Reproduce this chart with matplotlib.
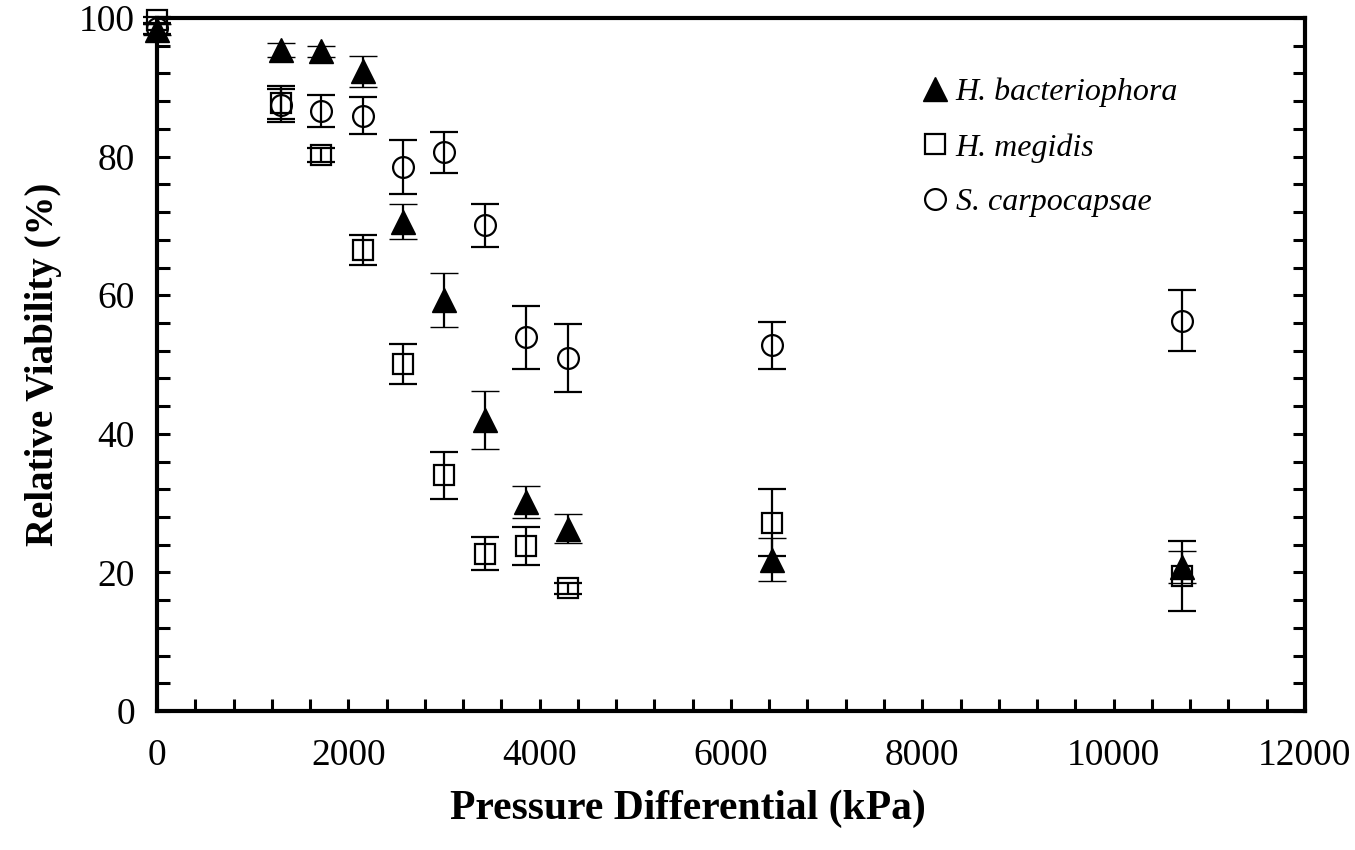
import numpy as np
import matplotlib
matplotlib.use("Agg")
import matplotlib.pyplot as plt
from matplotlib.ticker import MultipleLocator

plt.rcParams['font.family'] = ['Liberation Serif', 'DejaVu Serif']

# pressure differential (kPa)
pressure = [0, 1298, 1712, 2150, 2570, 3005, 3424, 3861, 4296, 6426, 10712]

# relative viability (%) and error
hb_mean = [98.3, 95.4, 95.2, 92.3, 70.6, 59.3, 42.0, 30.2, 26.3, 21.8, 20.8]
hb_err = [0.8, 1.0, 0.8, 2.2, 2.5, 3.9, 4.2, 2.3, 2.1, 3.1, 2.3]

hm_mean = [99.7, 87.8, 80.2, 66.5, 50.1, 34.0, 22.7, 23.8, 17.7, 27.2, 19.5]
hm_err = [0.5, 2.4, 1.0, 2.2, 2.9, 3.4, 2.4, 2.8, 0.8, 4.8, 5.0]

sc_mean = [98.5, 87.4, 86.6, 85.9, 78.5, 80.6, 70.1, 53.9, 51.0, 52.8, 56.3]
sc_err = [0.8, 2.4, 2.3, 2.7, 3.9, 3.0, 3.1, 4.5, 4.9, 3.4, 4.4]

fig = plt.figure(figsize=(13.55, 8.5), dpi=100)
ax = fig.add_axes([0.1159, 0.1635, 0.8471, 0.8153])

eb = dict(color='black', ecolor='black', elinewidth=1.6, capsize=10, capthick=1.6,
          linestyle='none', clip_on=False)
ax.errorbar(pressure, hm_mean, yerr=hm_err, marker='s', markersize=15,
            markerfacecolor='none', markeredgewidth=1.6, label='H. megidis', **eb)
ax.errorbar(pressure, sc_mean, yerr=sc_err, marker='o', markersize=15,
            markerfacecolor='none', markeredgewidth=1.6, label='S. carpocapsae', **eb)
ax.errorbar(pressure, hb_mean, yerr=hb_err, marker='^', markersize=17,
            markerfacecolor='black', markeredgewidth=1.0, label='H. bacteriophora', **eb)

ax.set_xlim(0, 12000)
ax.set_ylim(0, 100)
ax.xaxis.set_major_locator(MultipleLocator(2000))
ax.xaxis.set_minor_locator(MultipleLocator(400))
ax.yaxis.set_major_locator(MultipleLocator(20))
ax.yaxis.set_minor_locator(MultipleLocator(4))

for s in ax.spines.values():
    s.set_linewidth(3)
ax.tick_params(which='both', direction='in', top=False, right=True,
               length=9, width=2.2, labelsize=27)
ax.tick_params(axis='x', pad=20)
ax.tick_params(axis='y', pad=16)

ax.set_xlabel('Pressure Differential (kPa)', fontsize=30, fontweight='bold')
ax.xaxis.set_label_coords(0.4625, -0.114)
ax.set_ylabel('Relative Viability (%)', fontsize=28, fontweight='bold', labelpad=12)

h, l = ax.get_legend_handles_labels()
order = [2, 0, 1]
leg = ax.legend([h[i][0] for i in order], [l[i] for i in order],
                loc='upper left', bbox_to_anchor=(0.64, 0.955), frameon=False,
                prop={'style': 'italic', 'size': 23}, handletextpad=0.2,
                handlelength=0.9, labelspacing=0.8, markerscale=1.0)

fig.savefig('out.png', dpi=100)
